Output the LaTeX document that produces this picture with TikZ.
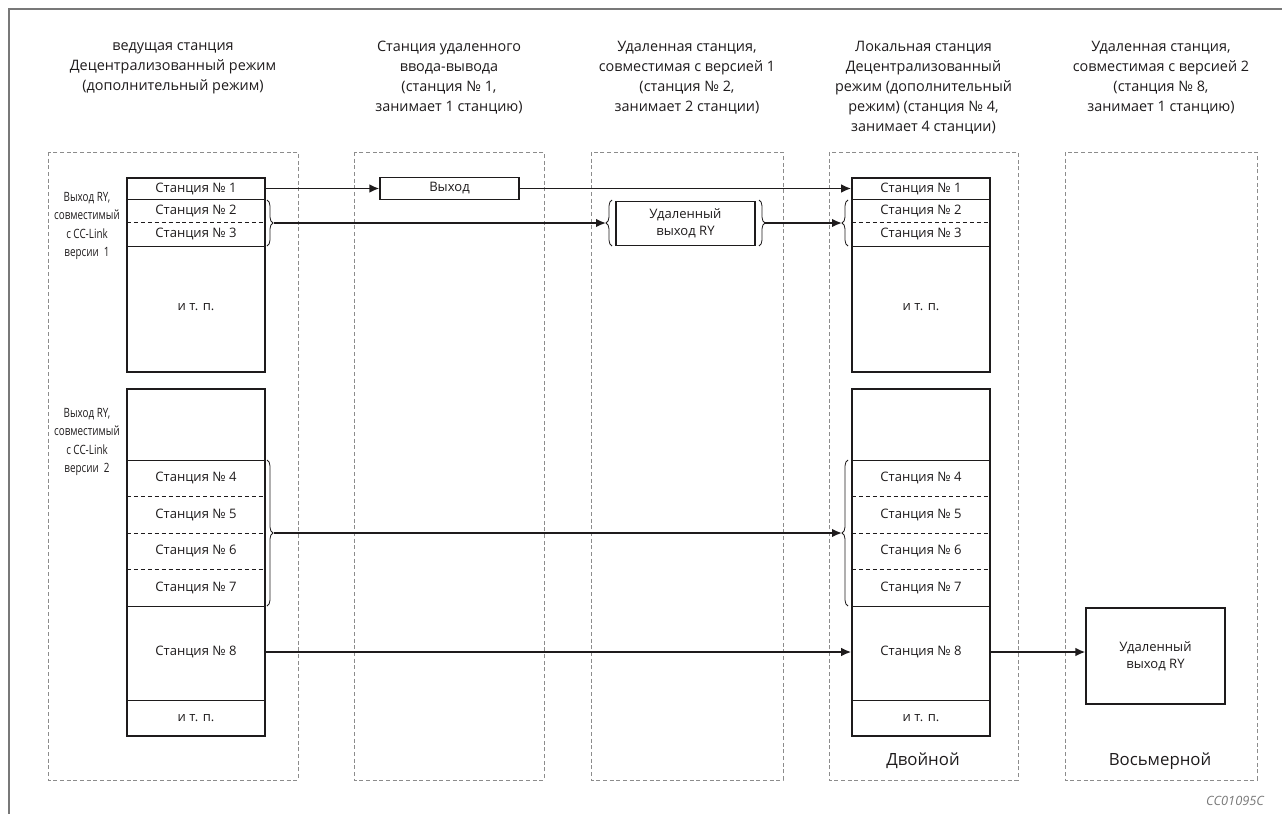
\documentclass[tikz,border=0pt]{standalone}
\usepackage{fontspec}
\setmainfont{Open Sans}
\newfontfamily\condfont[FakeStretch=0.77]{Open Sans}
\usetikzlibrary{arrows.meta,decorations.pathreplacing}
\definecolor{framegray}{RGB}{120,120,120}
\definecolor{dashgray}{RGB}{140,140,140}
\definecolor{inkc}{RGB}{30,27,28}
\begin{document}
\begin{tikzpicture}[x=0.75pt,y=-0.75pt,
  every node/.style={text=inkc},
  frameline/.style={draw=framegray,line width=1.1pt},
  colbox/.style={draw=dashgray,line width=0.6pt,dash pattern=on 3pt off 2pt},
  blk/.style={draw=inkc,line width=0.9pt},
  sepline/.style={draw=inkc,line width=0.7pt},
  sepdash/.style={draw=inkc,line width=0.6pt,dash pattern=on 3pt off 2.2pt},
  cell/.style={minimum width=104.25pt,minimum height=12pt,inner sep=0pt,font=\fontsize{9.8}{11}\selectfont},
  hdr/.style={align=center,font=\fontsize{10.8}{15}\selectfont},
  sidelbl/.style={align=center,font=\condfont\fontsize{9.6}{13.6}\selectfont},
  boxn/.style={draw=inkc,line width=0.9pt,inner sep=0pt,align=center,font=\fontsize{9.8}{13}\selectfont},
  arr/.style={draw=inkc,line width=1.35pt,-{Latex[length=7.5pt,width=6.5pt]}},
  brc/.style={draw=inkc,line width=0.6pt,decorate,decoration={brace,amplitude=4.5pt}}
]
\useasboundingbox (0,0) rectangle (1282,814);

% outer frame
\draw[frameline] (9,814) -- (9,9) -- (1282,9);

% column dashed boxes
\draw[colbox] (48,152) rectangle (298,780);
\draw[colbox] (354,152) rectangle (544,780);
\draw[colbox] (591,152) rectangle (783,780);
\draw[colbox] (829,152) rectangle (1018,780);
\draw[colbox] (1065,152) rectangle (1257,780);

% headers
\node[hdr] (h1) at (173,68) {ведущая станция\\Децентрализованный режим\\(дополнительный режим)};
\node[hdr] (h2) at (449,78) {Станция удаленного\\ввода-вывода\\(станция № 1,\\занимает 1 станцию)};
\node[hdr] (h3) at (687,78) {Удаленная станция,\\совместимая с версией 1\\(станция № 2,\\занимает 2 станции)};
\node[hdr] (h4) at (923.5,88) {Локальная станция\\Децентрализованный\\режим (дополнительный\\режим) (станция № 4,\\занимает 4 станции)};
\node[hdr] (h5) at (1161,78) {Удаленная станция,\\совместимая с версией 2\\(станция № 8,\\занимает 1 станцию)};

% side labels
\node[sidelbl] (s1) at (87,226) {Выход RY,\\совместимый\\с CC-Link\\версии~~1};
\node[sidelbl] (s2) at (87,442) {Выход RY,\\совместимый\\с CC-Link\\версии~~2};

% memory blocks (col 1 and col 4)
\foreach \xl/\xr in {127/265, 852/990}{
  \draw[blk] (\xl,178) rectangle (\xr,372);
  \draw[sepline] (\xl,199) -- (\xr,199);
  \draw[sepdash] (\xl,222) -- (\xr,222);
  \draw[sepline] (\xl,246) -- (\xr,246);
  \draw[blk] (\xl,389) rectangle (\xr,736);
  \draw[sepline] (\xl,460) -- (\xr,460);
  \draw[sepdash] (\xl,496) -- (\xr,496);
  \draw[sepdash] (\xl,533) -- (\xr,533);
  \draw[sepdash] (\xl,569) -- (\xr,569);
  \draw[sepline] (\xl,606) -- (\xr,606);
  \draw[sepline] (\xl,700) -- (\xr,700);
}

% cells col 1
\node[cell] (a1) at (196,188.5) {Станция № 1};
\node[cell] (a2) at (196,210.5) {Станция № 2};
\node[cell] (a3) at (196,234) {Станция № 3};
\node[cell] (a0) at (196,307) {и т. п.};
\node[cell] (a4) at (196,478) {Станция № 4};
\node[cell] (a5) at (196,514.5) {Станция № 5};
\node[cell] (a6) at (196,551) {Станция № 6};
\node[cell] (a7) at (196,587.5) {Станция № 7};
\node[cell,minimum width=103.5pt] (a8) at (196,652) {Станция № 8};
\node[cell] (a9) at (196,718) {и т. п.};

% cells col 4
\node[cell] (c1) at (921,188.5) {Станция № 1};
\node[cell] (c2) at (921,210.5) {Станция № 2};
\node[cell] (c3) at (921,234) {Станция № 3};
\node[cell] (c0) at (921,307) {и т. п.};
\node[cell] (c4) at (921,478) {Станция № 4};
\node[cell] (c5) at (921,514.5) {Станция № 5};
\node[cell] (c6) at (921,551) {Станция № 6};
\node[cell] (c7) at (921,587.5) {Станция № 7};
\node[cell] (c8) at (921,652) {Станция № 8};
\node[cell] (c9) at (921,718) {и т. п.};

% other boxes
\node[boxn,minimum width=104.25pt,minimum height=16.5pt] (vyh) at (449.5,188.5) {Выход};
\node[boxn,minimum width=104.25pt,minimum height=33pt] (rem1) at (685.5,223.5) {Удаленный\\выход RY};
\node[boxn,minimum width=104.25pt,minimum height=72pt] (rem2) at (1155.5,656) {Удаленный\\выход RY};

% bottom labels
\node[font=\fontsize{12.6}{15}\selectfont] (dv) at (923,761) {Двойной};
\node[font=\fontsize{12.6}{15}\selectfont] (vs) at (1160,761) {Восьмерной};
\node[font=\itshape\fontsize{9.6}{11}\selectfont,text=framegray] (code) at (1235,801) {CC01095C};

% braces
\draw[brc] (267,200) -- (267,246);
\coordinate (b1) at (274,223);
\draw[brc] (267,460) -- (267,606);
\coordinate (b2) at (274,533);
\draw[brc] (612,246) -- (612,200);
\coordinate (b3l) at (606,223);
\draw[brc] (759,200) -- (759,246);
\coordinate (b3r) at (765,223);
\draw[brc] (848,246) -- (848,200);
\coordinate (b4) at (842,223);
\draw[brc] (848,606) -- (848,460);
\coordinate (b5) at (842,533);

% connectors
\draw[arr] (a1.east) -- (vyh.west);
\draw[arr] (vyh.east) -- (c1.west);
\draw[arr] (b1) -- (b3l);
\draw[arr] (b3r) -- (b4);
\draw[arr] (b2) -- (b5);
\draw[arr] (a8.east) -- (c8.west);
\draw[arr] (c8.east) -- (c8.east -| rem2.west);
\end{tikzpicture}
\end{document}
